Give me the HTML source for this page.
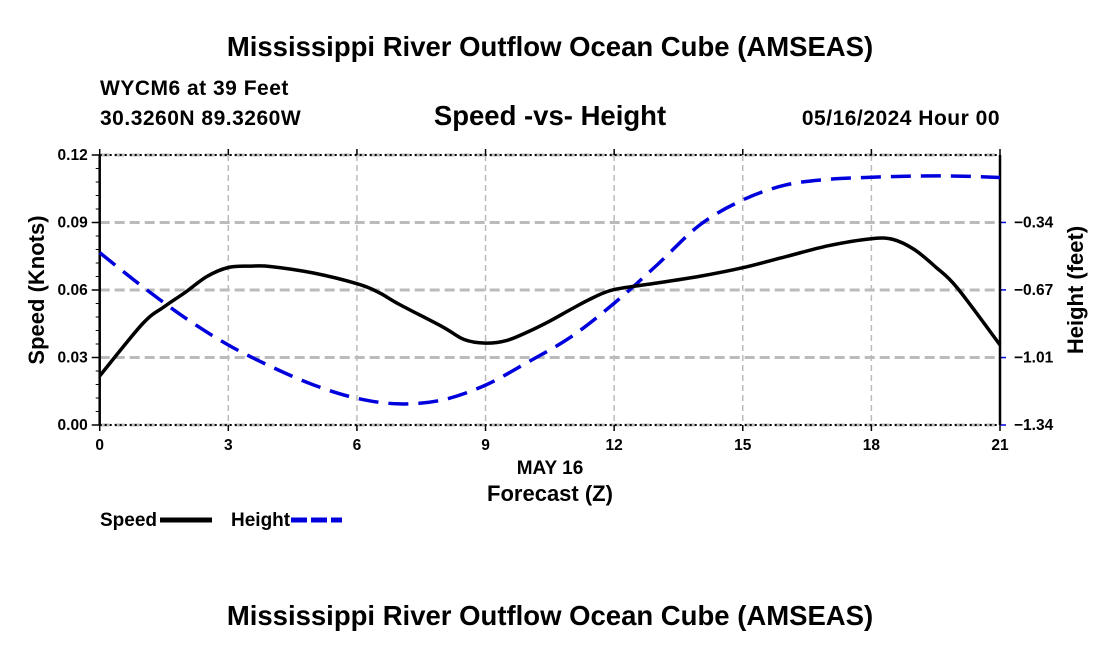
<!DOCTYPE html>
<html><head><meta charset="utf-8"><style>
html,body{margin:0;padding:0;background:#fff;}
svg{display:block;font-family:"Liberation Sans",sans-serif;font-weight:bold;}
</style></head><body>
<svg id="chart" width="1100" height="650" viewBox="0 0 1100 650">
<text x="550" y="56" text-anchor="middle" font-size="27.5">Mississippi River Outflow Ocean Cube (AMSEAS)</text>
<text x="100" y="95" font-size="21" letter-spacing="0.5">WYCM6 at 39 Feet</text>
<text x="100" y="125" font-size="21" letter-spacing="0.5">30.3260N  89.3260W</text>
<text x="550" y="125" text-anchor="middle" font-size="27.5">Speed -vs- Height</text>
<text x="1000" y="125" text-anchor="end" font-size="21" letter-spacing="0.5">05/16/2024 Hour 00</text>
<g id="grid"></g>
<g id="axes"></g>
<g id="series"></g>
<text transform="translate(44,290) rotate(-90)" text-anchor="middle" font-size="22">Speed (Knots)</text>
<text transform="translate(1083,290) rotate(-90)" text-anchor="middle" font-size="22">Height (feet)</text>
<text x="550" y="474" text-anchor="middle" font-size="19">MAY 16</text>
<text x="550" y="501" text-anchor="middle" font-size="22">Forecast (Z)</text>
<g>
<text x="100" y="526" font-size="19">Speed</text>
<line x1="160" y1="520" x2="212" y2="520" stroke="#000" stroke-width="5"/>
<text x="231" y="526" font-size="19">Height</text>
<line x1="291" y1="520" x2="342" y2="520" stroke="#0000dd" stroke-width="5" stroke-dasharray="16,4"/>
</g>
<text x="550" y="625" text-anchor="middle" font-size="27.5">Mississippi River Outflow Ocean Cube (AMSEAS)</text>
</svg>
<script>
const speedHours=[0,1,1.5,2,2.5,3,3.5,4,5,6,6.5,7,8,8.5,9,9.5,10,10.5,11,11.5,12,13,14,15,16,17,18,18.5,19,19.5,20,21];
const speedValues=[0.0218,0.0450,0.0525,0.0590,0.0660,0.0700,0.0706,0.0704,0.0675,0.0628,0.0590,0.0535,0.0436,0.0380,0.0364,0.0376,0.0415,0.0462,0.0515,0.0565,0.0602,0.0631,0.0661,0.0699,0.0748,0.0797,0.0828,0.0825,0.0780,0.0702,0.0610,0.0356];
const heightHours=[0,1,2,3,4,5,6,7,8,9,10,11,12,13,14,15,16,17,18,19,20,21];
const heightValues=[-0.489,-0.657,-0.812,-0.945,-1.052,-1.143,-1.208,-1.236,-1.216,-1.143,-1.028,-0.904,-0.739,-0.550,-0.352,-0.229,-0.155,-0.127,-0.117,-0.111,-0.111,-0.118];
const xTicks=[0,3,6,9,12,15,18,21];
const speedTicks=[0,0.03,0.06,0.09,0.12];
const speedTickLabels=["0.00","0.03","0.06","0.09","0.12"];
const heightTicks=[-1.34,-1.007,-0.673,-0.34];
const heightTickLabels=["\u22121.34","\u22121.01","\u22120.67","\u22120.34"];

const L=99.7,R=1000,T=155,B=425;
const HMIN=-1.34,HMAX=-0.007;
const xs=h=>L+(h/21)*(R-L);
const ys=v=>B-(v/0.12)*(B-T);
const yh=v=>B-((v-HMIN)/(HMAX-HMIN))*(B-T);
const NS="http://www.w3.org/2000/svg";
function mk(tag,attrs,parent){const e=document.createElementNS(NS,tag);for(const k in attrs)e.setAttribute(k,attrs[k]);parent.appendChild(e);return e;}
const grid=document.getElementById('grid'),axes=document.getElementById('axes'),series=document.getElementById('series');

xTicks.forEach((t,i)=>{
  if(t>0&&t<21){const g=mk('line',{x1:xs(t),y1:T,x2:xs(t),y2:B,stroke:'#bbb','stroke-width':1.5,'stroke-dasharray':'6,4'},grid);
  
  }
  const tk=mk('line',{x1:xs(t),y1:B,x2:xs(t),y2:B+6,stroke:'#000','stroke-width':1.5},axes);
  
  
  const tt=mk('line',{x1:xs(t),y1:T-6,x2:xs(t),y2:T,stroke:'#000','stroke-width':1.5},axes);
  
  
  const lb=mk('text',{x:xs(t),y:B+25,'text-anchor':'middle','font-size':15.5},axes);
  lb.textContent=String(t);
  
  
});
speedTicks.forEach((t,i)=>{
  const g=mk('line',{x1:L,y1:ys(t),x2:R,y2:ys(t),stroke:'#bbb','stroke-width':3,'stroke-dasharray':'10,5'},grid);
  
  
  const tk=mk('line',{x1:L-8,y1:ys(t),x2:L,y2:ys(t),stroke:'#000','stroke-width':1.5},axes);
  
  
  const lb=mk('text',{x:L-12,y:ys(t)+5,'text-anchor':'end','font-size':15.5},axes);
  lb.textContent=speedTickLabels[i];
  
  
  if(i<speedTicks.length-1){for(let k=1;k<5;k++){const v=t+k*0.006;
    const m=mk('line',{x1:L-4,y1:ys(v),x2:L,y2:ys(v),stroke:'#000','stroke-width':1},axes);
    
    }}
});
heightTicks.forEach((t,i)=>{
  const tk=mk('line',{x1:R,y1:yh(t),x2:R+6,y2:yh(t),stroke:'#0000dd','stroke-width':1.5},axes);
  
  
  const lb=mk('text',{x:R+14,y:yh(t)+5,'font-size':15.5},axes);
  lb.textContent=heightTickLabels[i];
  
  
});
const bt=mk('line',{x1:L,y1:T,x2:R,y2:T,stroke:'#000','stroke-width':2,'stroke-dasharray':'2,3'},axes);


const bb=mk('line',{x1:L,y1:B,x2:R,y2:B,stroke:'#000','stroke-width':2,'stroke-dasharray':'2,3'},axes);


const bl=mk('line',{x1:L,y1:T,x2:L,y2:B,stroke:'#000','stroke-width':2.5},axes);


const br=mk('line',{x1:R,y1:T,x2:R,y2:B,stroke:'#000','stroke-width':2.5},axes);



function smooth(pts){let d='M'+pts[0][0]+','+pts[0][1];
  for(let i=0;i<pts.length-1;i++){const p0=pts[Math.max(0,i-1)],p1=pts[i],p2=pts[i+1],p3=pts[Math.min(pts.length-1,i+2)];
    const c1x=p1[0]+(p2[0]-p0[0])/6,c1y=p1[1]+(p2[1]-p0[1])/6,c2x=p2[0]-(p3[0]-p1[0])/6,c2y=p2[1]-(p3[1]-p1[1])/6;
    d+=' C'+c1x+','+c1y+' '+c2x+','+c2y+' '+p2[0]+','+p2[1];}
  return d;}
const hp=mk('path',{d:smooth(heightHours.map((h,i)=>[xs(h),yh(heightValues[i])])),fill:'none',stroke:'#0000dd','stroke-width':3.5,'stroke-dasharray':'20,10'},series);


const sp=mk('path',{d:smooth(speedHours.map((h,i)=>[xs(h),ys(speedValues[i])])),fill:'none',stroke:'#000','stroke-width':3.5},series);


</script>
</body></html>
